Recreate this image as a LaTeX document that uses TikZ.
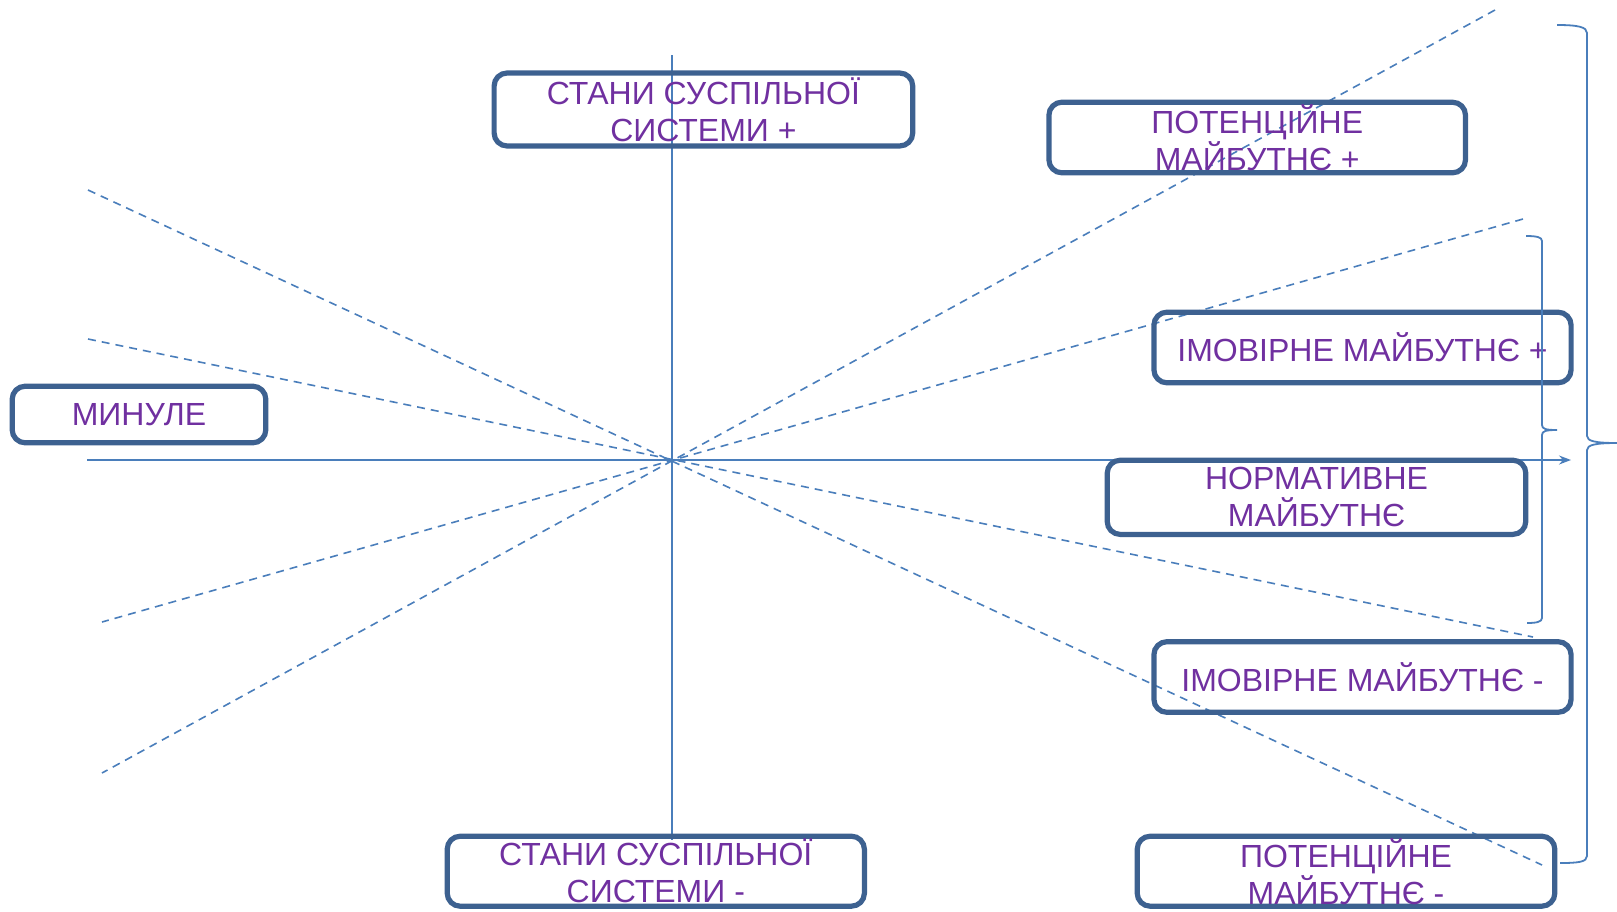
\documentclass[tikz,border=0pt]{standalone}
\usepackage{fontspec}
\setmainfont{Liberation Sans}
\usetikzlibrary{arrows.meta}
\definecolor{boxblue}{HTML}{3D6190}
\definecolor{lineblue}{HTML}{4A7EBB}
\definecolor{txtpurple}{HTML}{7030A0}
\begin{document}
\begin{tikzpicture}[x=0.5pt,y=-0.5pt,
 labelbox/.style={draw=boxblue, line width=2.6pt, rounded corners=6.5pt, align=center, text=txtpurple, font=\fontsize{16}{18.5}\selectfont, inner sep=0pt},
 axisline/.style={draw=lineblue, line width=0.8pt},
 dashline/.style={draw=lineblue, line width=0.8pt, dash pattern=on 4pt off 3pt},
 bracepath/.style={draw=lineblue, line width=0.9pt}]
\useasboundingbox (0,0) rectangle (1617,911);

% axes and dashed rays
\coordinate (hstart) at (87,460);
\coordinate (hend) at (1571,460);
\coordinate (vtop) at (672,55);
\coordinate (vbot) at (672,840);
\draw[axisline] (vtop) -- (vbot);
\draw[axisline,-{Stealth[length=6pt,width=4.5pt,inset=2pt]}] (hstart) -- (hend);

\coordinate (d1a) at (1495,10);  \coordinate (d1b) at (102,773);
\coordinate (d2a) at (1523,219); \coordinate (d2b) at (102,622);
\coordinate (d3a) at (88,190);   \coordinate (d3b) at (1542,865);
\coordinate (d4a) at (88,339);   \coordinate (d4b) at (1533,637);
\draw[dashline] (d1a) -- (d1b);
\draw[dashline] (d2a) -- (d2b);
\draw[dashline] (d3a) -- (d3b);
\draw[dashline] (d4a) -- (d4b);

% boxes
\node[labelbox, minimum width=209.3pt, minimum height=36.5pt] (sttop) at (703.4,109.5) {СТАНИ СУСПІЛЬНОЇ\\СИСТЕМИ +};
\node[labelbox, minimum width=208.3pt, minimum height=35.3pt] (potplus) at (1257.2,137.5) {ПОТЕНЦІЙНЕ\\МАЙБУТНЄ +};
\node[labelbox, minimum width=208.6pt, minimum height=35.3pt] (imovplus) at (1362.5,347.5) {ІМОВІРНЕ МАЙБУТНЄ +};
\node[labelbox, minimum width=209.3pt, minimum height=37.1pt] (norm) at (1316.5,497.3) {НОРМАТИВНЕ\\МАЙБУТНЄ};
\node[labelbox, minimum width=208.6pt, minimum height=35.3pt] (imovminus) at (1362.5,677) {ІМОВІРНЕ МАЙБУТНЄ -};
\node[labelbox, minimum width=208.6pt, minimum height=35pt] (stbot) at (655.8,871.2) {СТАНИ СУСПІЛЬНОЇ\\СИСТЕМИ -};
\node[labelbox, minimum width=208.8pt, minimum height=35pt] (potminus) at (1346,871.2) {ПОТЕНЦІЙНЕ\\МАЙБУТНЄ -};
\node[labelbox, minimum width=126.8pt, minimum height=28.3pt] (past) at (139,414.5) {МИНУЛЕ};

% small brace
\draw[bracepath] (1526,236) .. controls (1536,236) and (1542,237) .. (1542,241)
  -- (1542,425) .. controls (1542,429) and (1546,430) .. (1557,430)
  .. controls (1546,430) and (1542,431) .. (1542,435)
  -- (1542,618) .. controls (1542,622) and (1536,623) .. (1527,623);
% big brace
\draw[bracepath] (1557,25) .. controls (1578,25) and (1587,27) .. (1587,33)
  -- (1587,436) .. controls (1587,441) and (1595,443) .. (1617,443)
  .. controls (1595,443) and (1587,445) .. (1587,450)
  -- (1587,856) .. controls (1587,862) and (1578,863) .. (1560,863);
\end{tikzpicture}
\end{document}
